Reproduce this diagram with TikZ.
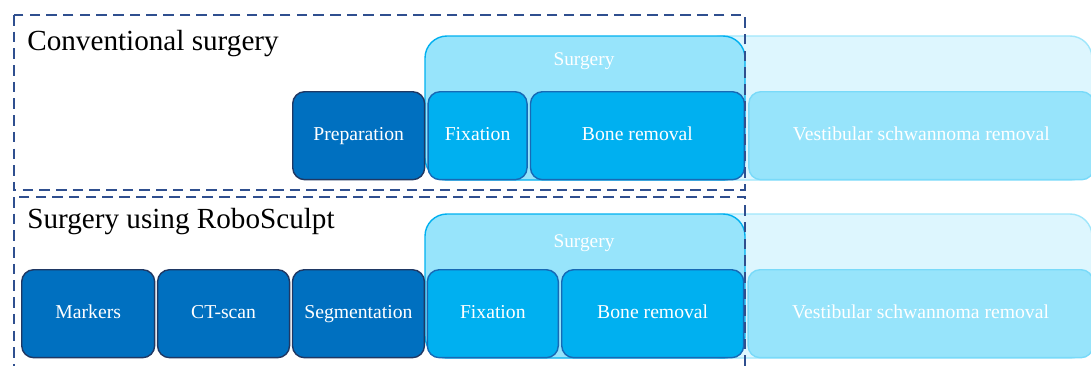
\documentclass[tikz,border=0pt]{standalone}
\usepackage{fontspec}
\setmainfont{Liberation Serif}
\usepackage{tikz}
\usetikzlibrary{positioning}
\definecolor{darkstep}{HTML}{0070C0}
\definecolor{darkedge}{HTML}{1F3864}
\definecolor{midstep}{HTML}{00B0F0}
\definecolor{midedge}{HTML}{1769B5}
\definecolor{lightstep}{HTML}{97E4FB}
\definecolor{paleback}{HTML}{DDF6FE}
\definecolor{paleedge}{HTML}{9FE6FB}
\definecolor{framecol}{HTML}{2F4F8F}

\begin{document}
\begin{tikzpicture}[x=0.02cm, y=-0.02cm,
    box/.style={rounded corners=0.24cm, minimum height=1.76cm, inner sep=0pt,
      text=white, font=\fontsize{11.2}{13}\selectfont, line width=0.8pt,
      text height=1.6ex, text depth=0.5ex},
    darkbox/.style={box, fill=darkstep, draw=darkedge},
    midbox/.style={box, fill=midstep, draw=midedge},
    lightbox/.style={box, fill=lightstep, draw=lightstep!80!midstep},
    backbox/.style={rounded corners=0.44cm, line width=0.8pt},
    backlabel/.style={text=white, font=\fontsize{11}{13}\selectfont, inner sep=0pt},
    phase/.style={dash pattern=on 6pt off 3.5pt, line width=1.4pt, draw=framecol},
    title/.style={anchor=west, inner sep=0pt, font=\fontsize{16.6}{19}\selectfont}]
        \useasboundingbox (0,0) rectangle (1091,365);

        % background bars
        \draw[backbox, fill=paleback, draw=paleedge] (700,36) rectangle (1092,180);
        \draw[backbox, fill=lightstep, draw=midstep] (425,36) rectangle (745,180);
        \node[backlabel] (surgA) at (584,61) {Surgery};
        \draw[backbox, fill=paleback, draw=paleedge] (700,214) rectangle (1092,358);
        \draw[backbox, fill=lightstep, draw=midstep] (425,214) rectangle (745,358);
        \node[backlabel] (surgB) at (584,243) {Surgery};

        % conventional steps
        \node[darkbox, anchor=north west, minimum width=2.64cm] (prepA) at (292,91) {Preparation};
        \node[midbox, minimum width=1.98cm, right=0.04cm of prepA] (fixA) {Fixation};
        \node[midbox, minimum width=4.28cm, right=0.04cm of fixA] (boneA) {Bone removal};
        \node[lightbox, minimum width=6.9cm, right=0.06cm of boneA] (vsA) {Vestibular schwannoma removal};

        % robotic steps
        \node[darkbox, anchor=north west, minimum width=2.66cm] (markB) at (21,269) {Markers};
        \node[darkbox, minimum width=2.64cm, right=0.03cm of markB] (ctB) {CT-scan};
        \node[darkbox, minimum width=2.64cm, right=0.03cm of ctB] (segB) {Segmentation};
        \node[midbox, minimum width=2.62cm, right=0.03cm of segB] (fixB) {Fixation};
        \node[midbox, minimum width=3.64cm, right=0.04cm of fixB] (boneB) {Bone removal};
        \node[lightbox, minimum width=6.9cm, right=0.06cm of boneB] (vsB) {Vestibular schwannoma removal};

        % frames
        \draw[phase] (14,15) rectangle (745,190);
        \draw[phase] (14,197) rectangle (745,375);
        \node[title] (titleA) at (27,44) {Conventional surgery};
        \node[title] (titleB) at (27,222) {Surgery using RoboSculpt};
      \end{tikzpicture}
\end{document}
